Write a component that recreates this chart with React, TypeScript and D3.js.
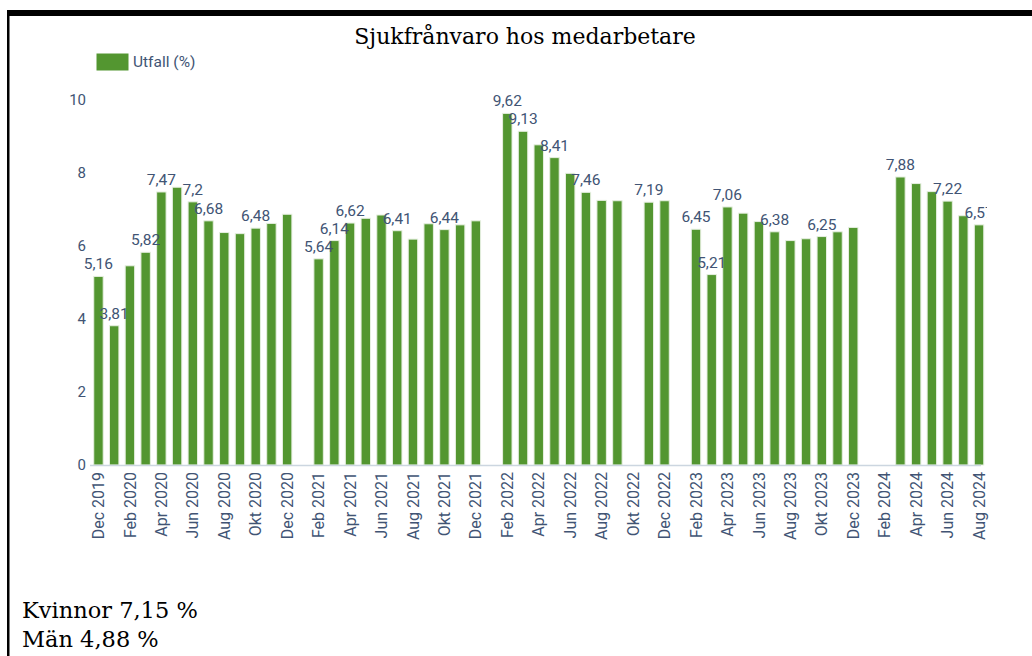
import React, { useEffect, useRef } from 'react';
import * as d3 from 'd3';

// months shown on the x axis (one band per month)
const months = [
  'Dec 2019', 'Jan 2020', 'Feb 2020', 'Mar 2020', 'Apr 2020', 'Maj 2020', 'Jun 2020', 'Jul 2020', 'Aug 2020', 'Sep 2020', 'Okt 2020', 'Nov 2020', 'Dec 2020',
  'Jan 2021', 'Feb 2021', 'Mar 2021', 'Apr 2021', 'Maj 2021', 'Jun 2021', 'Jul 2021', 'Aug 2021', 'Sep 2021', 'Okt 2021', 'Nov 2021', 'Dec 2021',
  'Jan 2022', 'Feb 2022', 'Mar 2022', 'Apr 2022', 'Maj 2022', 'Jun 2022', 'Jul 2022', 'Aug 2022', 'Sep 2022', 'Okt 2022', 'Nov 2022', 'Dec 2022',
  'Jan 2023', 'Feb 2023', 'Mar 2023', 'Apr 2023', 'Maj 2023', 'Jun 2023', 'Jul 2023', 'Aug 2023', 'Sep 2023', 'Okt 2023', 'Nov 2023', 'Dec 2023',
  'Jan 2024', 'Feb 2024', 'Mar 2024', 'Apr 2024', 'Maj 2024', 'Jun 2024', 'Jul 2024', 'Aug 2024',
];

// Utfall (%) per month, null = no value reported
const utfall: (number | null)[] = [
  5.16,
  3.81, 5.45, 5.82, 7.47, 7.60, 7.20, 6.68, 6.36, 6.33, 6.48, 6.61, 6.86,
  null, 5.64, 6.14, 6.62, 6.75, 6.84, 6.41, 6.18, 6.60, 6.44, 6.57, 6.68,
  null, 9.62, 9.13, 8.76, 8.41, 7.98, 7.46, 7.24, 7.23, null, 7.19, 7.23,
  null, 6.45, 5.21, 7.06, 6.89, 6.66, 6.38, 6.14, 6.19, 6.25, 6.38, 6.50,
  null, null, 7.88, 7.70, 7.48, 7.22, 6.82, 6.57,
];

// months whose data label is visible (the others are hidden by overlap)
const labelled = [
  'Dec 2019', 'Jan 2020', 'Mar 2020', 'Apr 2020', 'Jun 2020', 'Jul 2020', 'Okt 2020',
  'Feb 2021', 'Mar 2021', 'Apr 2021', 'Jul 2021', 'Okt 2021',
  'Feb 2022', 'Mar 2022', 'Maj 2022', 'Jul 2022', 'Nov 2022',
  'Feb 2023', 'Mar 2023', 'Apr 2023', 'Jul 2023', 'Okt 2023',
  'Mar 2024', 'Jun 2024', 'Aug 2024',
];

const yTicks = [0, 2, 4, 6, 8, 10];
const summary = ['Kvinnor 7,15 %', 'Män 4,88 %'];

const W = 1032, H = 656;
const GREEN = '#539630';
const SLATE = '#415474';

const App = () => {
  const ref = useRef<SVGSVGElement>(null);

  useEffect(() => {
    const svg = d3.select(ref.current);
    svg.selectAll('*').remove();

    // frame of the page
    svg.append('rect').attr('x', 7).attr('y', 10).attr('width', W - 7).attr('height', 6).attr('fill', '#000');
    svg.append('rect').attr('x', 7).attr('y', 10).attr('width', 2.5).attr('height', H - 10).attr('fill', '#000');

    svg.append('text')
      .attr('x', 525).attr('y', 44)
      .attr('text-anchor', 'middle')
      .style('font-family', '"DejaVu Serif", serif')
      .style('font-size', '22px')
      .attr('fill', '#000')
      .text('Sjukfrånvaro hos medarbetare');

    // legend
    svg.append('rect').attr('x', 96).attr('y', 53).attr('width', 33).attr('height', 18)
      .attr('fill', GREEN).attr('stroke', '#fff').attr('stroke-width', 1);
    svg.append('text').attr('x', 133).attr('y', 67)
      .style('font-family', 'Roboto, sans-serif').style('font-size', '15.5px')
      .attr('fill', SLATE).text('Utfall (%)');

    const x = d3.scaleBand()
      .domain(months)
      .range([90.6, 986.9])
      .paddingInner(0.4)
      .paddingOuter(0.2);

    const y = d3.scaleLinear().domain([0, 10]).range([465, 99.5]);

    // y axis labels
    svg.append('g').selectAll('text')
      .data(yTicks).enter().append('text')
      .attr('x', 86).attr('y', d => y(d))
      .attr('dy', '0.35em')
      .attr('text-anchor', 'end')
      .style('font-family', 'Roboto, sans-serif').style('font-size', '15px')
      .attr('fill', SLATE)
      .text(d => String(d));

    const rows = months.map((m, i) => ({ m, v: utfall[i] })).filter(d => d.v !== null) as { m: string, v: number }[];

    svg.append('g').selectAll('rect')
      .data(rows).enter().append('rect')
      .attr('x', d => x(d.m)!)
      .attr('y', d => y(d.v))
      .attr('width', x.bandwidth())
      .attr('height', d => y(0) - y(d.v))
      .attr('fill', GREEN)
      .attr('stroke', '#e6efe0')
      .attr('stroke-width', 1);

    // axis line
    svg.append('line')
      .attr('x1', 90).attr('x2', 981)
      .attr('y1', 465.5).attr('y2', 465.5)
      .attr('stroke', '#ccd6e0').attr('stroke-width', 1.5);

    // x axis labels, every second month
    svg.append('g').selectAll('text')
      .data(months.filter((_, i) => i % 2 === 0)).enter().append('text')
      .attr('transform', d => `translate(${x(d)! + x.bandwidth() / 2},472) rotate(-90)`)
      .attr('dy', '0.35em')
      .attr('text-anchor', 'end')
      .style('font-family', 'Roboto, sans-serif').style('font-size', '16px')
      .attr('fill', SLATE)
      .text(d => d);

    // data labels, clipped at the plot edge
    svg.append('clipPath').attr('id', 'plotclip')
      .append('rect').attr('x', 0).attr('y', 0).attr('width', 987).attr('height', H);

    svg.append('g').attr('clip-path', 'url(#plotclip)').selectAll('text')
      .data(rows.filter(d => labelled.includes(d.m))).enter().append('text')
      .attr('x', d => x(d.m)! + x.bandwidth() / 2)
      .attr('y', d => y(d.v) - 7)
      .attr('text-anchor', 'middle')
      .style('font-family', 'Roboto, sans-serif').style('font-size', '15.5px')
      .attr('fill', SLATE)
      .text(d => String(d.v).replace('.', ','));

    svg.append('g').selectAll('text')
      .data(summary).enter().append('text')
      .attr('x', 22).attr('y', (_, i) => 618 + i * 29)
      .style('font-family', '"DejaVu Serif", serif')
      .style('font-size', '22.5px')
      .attr('fill', '#000')
      .text(d => d);
  }, []);

  return <svg ref={ref} width={W} height={H} style={{ position: 'absolute', left: 0, top: 0, background: '#fff' }} />;
};

export default App;
